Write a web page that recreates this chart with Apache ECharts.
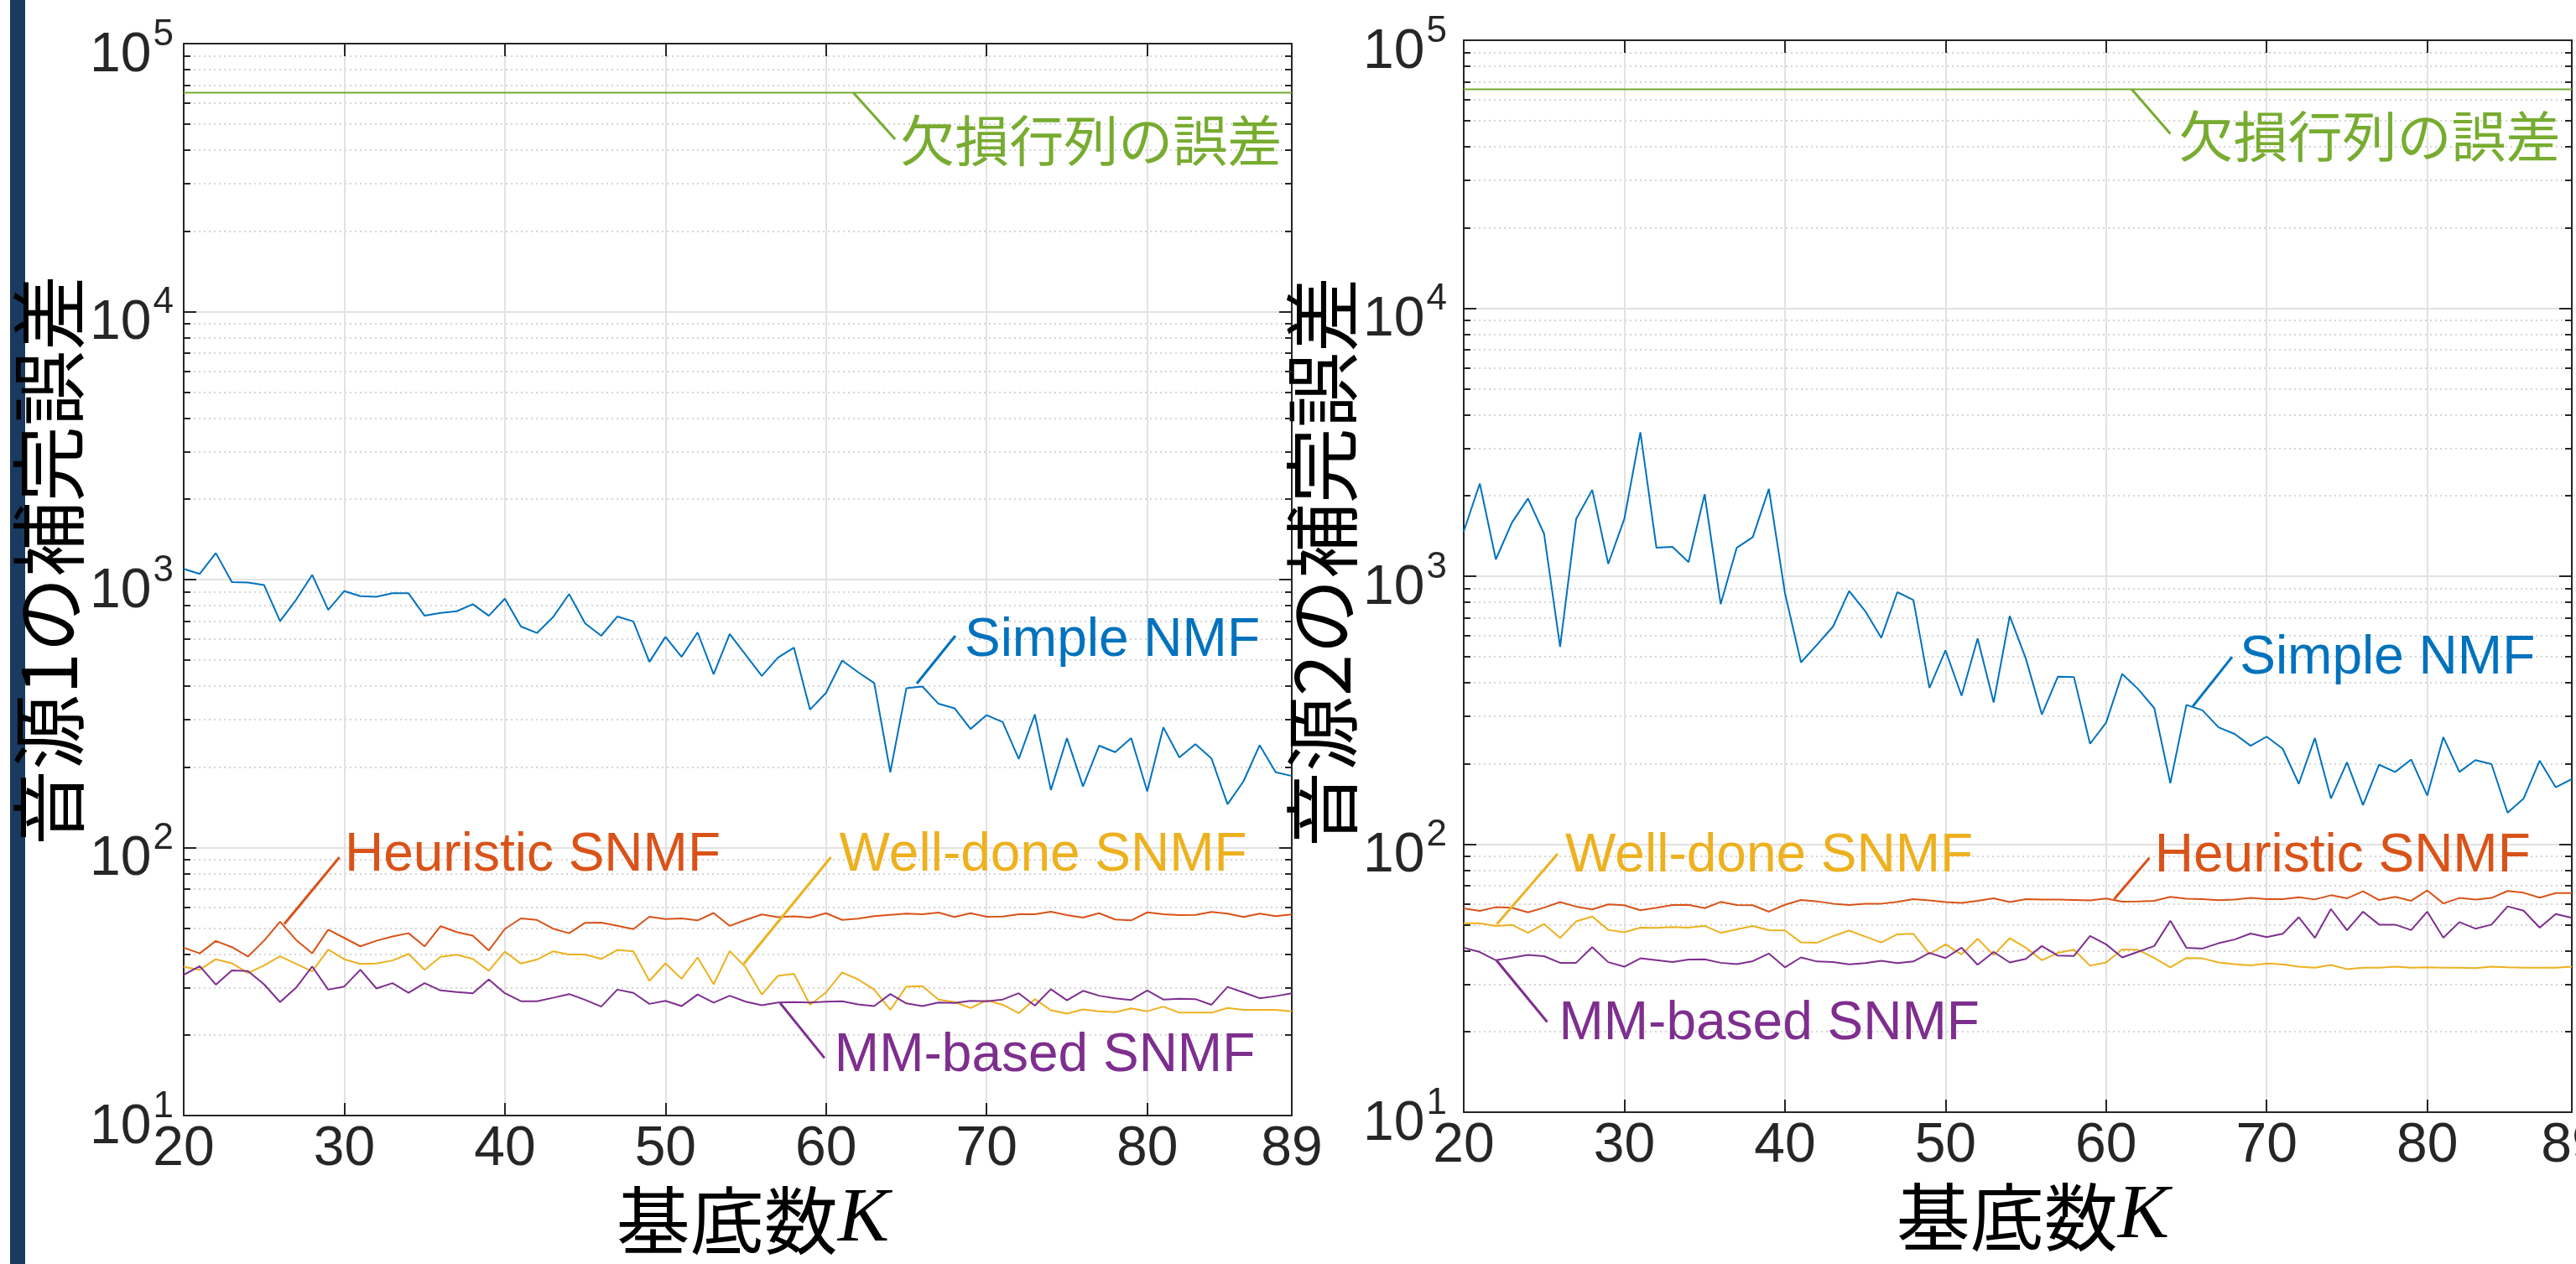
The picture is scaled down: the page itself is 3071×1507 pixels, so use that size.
<!DOCTYPE html>
<html><head><meta charset="utf-8">
<script src="https://cdn.jsdelivr.net/npm/echarts@6/dist/echarts.min.js"></script>
<style>html,body{margin:0;padding:0;background:#fff;overflow:hidden}#c{width:3071px;height:1507px}</style>
</head><body><div id="c"></div>
<script>
// ---------- data ----------
const K = [20,21,22,23,24,25,26,27,28,29,30,31,32,33,34,35,36,37,38,39,40,41,42,43,44,45,46,47,48,49,50,51,52,53,54,55,56,57,58,59,60,61,62,63,64,65,66,67,68,69,70,71,72,73,74,75,76,77,78,79,80,81,82,83,84,85,86,87,88,89];

// 音源1
const simple1 = [1096,1050,1256,979,975,955,699,841,1041,771,906,867,863,889,889,733,751,762,809,733,849,668,632,724,883,686,617,728,698,493,611,515,635,443,627,523,437,511,557,327,378,499,451,411,191,393,399,344,331,277,312,294,214,314,164,256,169,240,227,256,162,281,217,243,215,145,177,241,191,185];
const heur1 = [42.3,40.3,44.8,42.5,39.2,44.9,52.9,45.2,40.3,49.4,46.0,42.8,44.9,46.6,47.9,42.8,50.9,48.4,46.9,41.3,49.7,54.4,53.7,49.8,47.9,52.4,52.5,51.1,49.6,55.2,54.1,54.4,53.5,57.0,51.0,53.7,56.3,55.0,55.4,54.8,56.9,53.7,54.3,55.5,56.1,56.7,56.4,57.2,55.1,56.9,55.2,55.3,56.4,56.4,57.6,56.0,54.8,56.9,53.9,53.5,57.3,56.4,56.0,56.1,57.5,56.7,55.1,56.7,55.5,56.3];
const well1 = [35.9,35.0,38.3,37.0,34.0,36.3,39.3,36.8,34.5,41.6,38.3,36.8,36.9,37.9,40.1,35.0,39.1,39.8,38.4,34.7,40.9,36.9,38.2,41.0,39.9,39.9,38.4,41.5,41.0,31.8,37.0,32.4,38.9,30.9,41.1,35.7,28.3,33.2,33.8,25.9,28.8,34.2,32.2,29.5,24.8,30.3,30.4,27.1,26.5,25.2,26.9,25.9,24.1,27.2,24.7,24.0,24.9,24.5,24.3,25.1,24.5,25.5,24.2,24.2,24.2,25.2,24.8,24.8,24.8,24.5];
const mm1 = [33.5,36.1,30.8,34.8,34.6,30.9,26.5,30.0,36.0,29.5,30.3,35.0,29.8,31.2,28.7,31.2,29.3,28.9,28.6,32.2,28.6,26.7,26.7,27.5,28.4,27.0,25.5,29.5,28.7,26.1,26.8,25.6,28.3,26.4,28.0,26.6,25.8,26.4,26.5,26.4,26.6,26.7,26.0,25.6,28.4,26.2,25.6,26.4,26.3,26.8,26.7,27.1,28.6,25.7,29.6,26.9,29.2,28.0,27.4,27.0,29.3,27.1,27.3,27.2,25.9,30.2,28.8,27.4,27.9,28.6];

// 音源2
const simple2 = [1468,2218,1155,1585,1950,1442,545,1636,2099,1112,1636,3446,1277,1287,1128,2023,787,1277,1399,2118,866,477,555,649,881,741,589,872,815,383,529,358,586,338,711,493,305,422,420,237,284,432,379,322,169,331,316,273,258,233,252,227,168,249,148,202,140,198,186,207,152,251,186,206,199,131,148,205,163,175];
const heur2 = [57.6,56.4,58.2,57.9,55.7,58.0,60.8,58.5,57.1,59.6,59.2,56.7,57.9,59.3,59.4,57.7,60.9,59.3,59.2,56.0,59.4,61.9,61.2,60.0,59.3,59.9,60.0,60.9,62.4,61.7,60.8,60.4,61.5,62.8,60.8,62.4,62.1,62.1,61.9,61.7,62.7,61.0,61.2,61.5,63.6,62.6,62.4,61.8,62.1,63.0,62.4,62.4,63.4,62.2,64.5,62.8,66.7,61.9,63.6,61.5,67.2,60.1,63.0,62.1,63.0,66.9,65.9,63.2,65.7,65.7];
const well2 = [50.7,50.7,49.5,50.0,46.7,50.4,44.7,51.5,53.7,47.9,46.9,48.8,48.7,49.1,48.8,49.6,46.7,48.1,49.5,47.8,47.7,43.0,42.9,45.4,47.6,45.2,43.0,46.1,46.3,38.9,42.3,38.8,44.4,38.6,44.6,41.1,36.9,39.3,40.4,35.2,36.2,40.5,40.3,37.6,34.7,37.6,37.5,36.2,35.7,35.3,35.9,35.6,34.9,34.6,35.4,34.2,34.6,34.6,34.9,34.6,34.7,34.6,34.6,34.5,34.9,34.7,34.6,34.6,34.6,34.9];
const mm2 = [41.1,39.6,36.9,37.7,38.6,38.2,36.1,36.1,41.3,36.3,34.9,37.5,36.9,36.3,37.1,37.2,36.1,35.7,36.6,39.1,34.7,37.8,36.5,36.3,35.6,36.0,36.7,36.0,36.5,39.3,37.6,41.1,35.5,39.6,36.2,37.3,41.7,38.4,38.3,45.5,42.3,37.8,39.7,41.7,51.8,41.1,40.8,42.7,44.1,46.4,45.0,46.3,53.4,44.7,57.3,47.7,56.0,50.1,50.1,47.8,56.0,44.8,51.2,48.4,50.1,58.6,56.5,48.8,54.9,53.1];

// 欠損行列の誤差 (constant line, read at both ends)
const gapK = [20, 89];
const gap1 = [65600, 65600];
const gap2 = [65600, 65600];

// axis ticks
const xMin = 20, xMax = 89, xStep = 10;
const yDecades = [10, 100, 1000, 10000, 100000];
const yMinor = [];
for (let d = 0; d < yDecades.length - 1; d++) for (let m = 2; m <= 9; m++) yMinor.push(yDecades[d] * m);

const names = ['Simple NMF', 'Heuristic SNMF', 'Well-done SNMF', 'MM-based SNMF', '欠損行列の誤差'];
const yTitles = ['音源1の補完誤差', '音源2の補完誤差'];

// annotation anchors in data units: [leaderStart, leaderEnd, textAnchor]
const notes1 = {
  simple: [[65.65, 409], [68.05, 617], [68.6, 591]],
  heur:   [[26.26, 51.8], [29.7, 92], [30.0, 93]],
  well:   [[54.87, 36.8], [60.3, 92], [60.8, 93]],
  mm:     [[57.14, 26.3], [59.9, 16.4], [60.5, 16.6]],
  gap:    [[61.7, 65600], [64.3, 44000], [64.6, 43500]]
};
const notes2 = {
  simple: [[65.4, 327], [67.85, 500], [68.3, 492]],
  heur:   [[60.5, 62.4], [62.7, 89], [63.0, 90]],
  well:   [[22.05, 50.2], [25.85, 92], [26.3, 90]],
  mm:     [[22.05, 36.8], [25.2, 21.7], [25.9, 21.3]],
  gap:    [[61.6, 65600], [64.0, 44800], [64.5, 43900]]
};

// ---------- style ----------
const C = {simple:'#0072BD', heur:'#D95319', well:'#EDB120', mm:'#7E2F8E', gap:'#77AC30'};
const LATIN = '"Liberation Sans", Arial, Helvetica, sans-serif';
const CJK = '"Noto Sans CJK JP", "Noto Sans CJK SC", sans-serif';
const AX = '#262626';

const grids = [
  {left: 219, top: 52, width: 1321, height: 1278, outerBoundsMode: 'none', containLabel: false},
  {left: 1745, top: 48, width: 1321, height: 1278, outerBoundsMode: 'none', containLabel: false}
];

const xAxes = [], yAxes = [], series = [];

function annot(key, note, label, isGap) {
  return {
    markLine: {
      silent: true, animation: false, symbol: ['none', 'none'],
      label: {show: false}, emphasis: {disabled: true},
      lineStyle: {color: C[key], width: 3, type: 'solid'},
      data: [[{coord: note[0]}, {coord: note[1]}]]
    },
    markPoint: {
      silent: true, animation: false, symbol: 'circle', symbolSize: 1,
      itemStyle: {color: 'rgba(0,0,0,0)'},
      label: {
        show: true, position: 'right', distance: 0, formatter: label,
        color: C[key], fontSize: isGap ? 65 : 64, fontFamily: isGap ? CJK : LATIN
      },
      data: [{coord: note[2]}]
    }
  };
}

function panel(g, data, notes) {
  const xi = xAxes.length, yi = yAxes.length;
  xAxes.push({
    gridIndex: g, type: 'value', min: xMin, max: xMax, interval: xStep, position: 'bottom',
    axisLine: {show: true, onZero: false, lineStyle: {color: AX, width: 2}},
    axisTick: {show: true, inside: true, length: 15, lineStyle: {color: AX, width: 2}},
    axisLabel: {show: true, margin: 8, fontSize: 66, fontFamily: LATIN, color: AX, hideOverlap: false},
    splitLine: {show: true, lineStyle: {color: '#e2e2e2', width: 2}},
    name: '{c|基底数}{k|K}', nameLocation: 'middle', nameGap: 76,
    nameTextStyle: {
      padding: [0, 0, 0, 36],
      rich: {
        c: {fontSize: 88, fontFamily: CJK, color: '#000'},
        k: {fontSize: 92, fontFamily: '"Liberation Serif", "Times New Roman", serif', fontStyle: 'italic', color: '#000'}
      }
    }
  });
  xAxes.push({
    gridIndex: g, type: 'value', min: xMin, max: xMax, interval: xStep, position: 'top',
    axisLine: {show: true, onZero: false, lineStyle: {color: AX, width: 2}},
    axisTick: {show: true, inside: true, length: 15, lineStyle: {color: AX, width: 2}},
    axisLabel: {show: false}, splitLine: {show: false}
  });
  const logBase = {gridIndex: g, type: 'log', logBase: 10, min: yDecades[0], max: yDecades[yDecades.length - 1]};
  yAxes.push(Object.assign({}, logBase, {
    position: 'left',
    axisLine: {show: true, onZero: false, lineStyle: {color: AX, width: 2}},
    axisTick: {show: true, inside: true, length: 15, lineStyle: {color: AX, width: 2}},
    axisLabel: {
      show: true, margin: g === 0 ? 12 : 20, padding: [15, 0, 0, 0],
      formatter: v => '{b|10}{s|' + Math.round(Math.log10(v)) + '}',
      rich: {
        b: {fontSize: 66, fontFamily: LATIN, color: AX, lineHeight: 80, verticalAlign: 'bottom'},
        s: {fontSize: 44, fontFamily: LATIN, color: AX, lineHeight: 44, verticalAlign: 'top', padding: [0, 0, 0, 2]}
      }
    },
    splitLine: {show: true, lineStyle: {color: '#e2e2e2', width: 2}},
    name: yTitles[g], nameLocation: 'middle', nameGap: g === 0 ? 105 : 117,
    nameTextStyle: {fontSize: 90, fontFamily: CJK, color: '#000', padding: [0, 0, 0, g === 0 ? 46 : 34]}
  }));
  yAxes.push(Object.assign({}, logBase, {
    position: 'right',
    axisLine: {show: true, onZero: false, lineStyle: {color: AX, width: 2}},
    axisTick: {show: true, inside: true, length: 15, lineStyle: {color: AX, width: 2}},
    axisLabel: {show: false}, splitLine: {show: false}
  }));
  yAxes.push(Object.assign({}, logBase, {
    position: 'left',
    axisLine: {show: false},
    axisTick: {show: true, inside: true, length: 8, customValues: yMinor, lineStyle: {color: AX, width: 2}},
    axisLabel: {show: false},
    splitLine: {show: true, lineStyle: {color: '#c8c8c8', width: 1.5, type: [2, 4]}}
  }));
  yAxes.push(Object.assign({}, logBase, {
    position: 'right',
    axisLine: {show: false},
    axisTick: {show: true, inside: true, length: 8, customValues: yMinor, lineStyle: {color: AX, width: 2}},
    axisLabel: {show: false}, splitLine: {show: false}
  }));

  const mk = (key, xs, ys, label, isGap) => Object.assign({
    type: 'line', name: label, xAxisIndex: xi, yAxisIndex: yi,
    data: xs.map((k, i) => [k, ys[i]]),
    showSymbol: false, symbol: 'none', silent: true, animation: false,
    emphasis: {disabled: true},
    lineStyle: {color: C[key], width: 2}, itemStyle: {color: C[key]}
  }, annot(key, notes[key], label, isGap));

  series.push(mk('simple', K, data.simple, names[0]));
  series.push(mk('heur', K, data.heur, names[1]));
  series.push(mk('well', K, data.well, names[2]));
  series.push(mk('mm', K, data.mm, names[3]));
  series.push(mk('gap', gapK, data.gap, names[4], true));
}

panel(0, {simple: simple1, heur: heur1, well: well1, mm: mm1, gap: gap1}, notes1);
panel(1, {simple: simple2, heur: heur2, well: well2, mm: mm2, gap: gap2}, notes2);

const chart = echarts.init(document.getElementById('c'), null, {renderer: 'canvas', width: 3071, height: 1507});
chart.setOption({
  animation: false,
  backgroundColor: '#ffffff',
  grid: grids,
  xAxis: xAxes,
  yAxis: yAxes,
  series: series,
  graphic: [{type: 'rect', left: 12, top: 0, shape: {width: 18, height: 1507}, style: {fill: '#1b3a60'}, silent: true}]
});
</script></body></html>
